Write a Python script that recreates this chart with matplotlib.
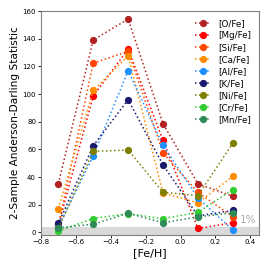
import matplotlib
matplotlib.use("Agg")
import matplotlib.pyplot as plt

feh = [-0.7, -0.5, -0.3, -0.1, 0.1, 0.3]
labels = ["[O/Fe]", "[Mg/Fe]", "[Si/Fe]", "[Ca/Fe]", "[Al/Fe]", "[K/Fe]", "[Ni/Fe]", "[Cr/Fe]", "[Mn/Fe]"]
colors = ["firebrick", "red", "orangered", "darkorange", "dodgerblue", "midnightblue", "olive", "limegreen", "seagreen"]
o_fe = [35.3, 139.1, 154.2, 78.6, 35.1, 26.2]
mg_fe = [5.0, 98.7, 132.4, 66.5, 2.9, 7.0]
si_fe = [5.0, 122.3, 131.0, 57.4, 29.0, 11.3]
ca_fe = [17.3, 102.6, 127.6, 28.5, 21.4, 40.6]
al_fe = [4.0, 55.5, 116.8, 62.9, 25.0, 1.7]
k_fe = [6.5, 62.7, 95.9, 48.8, 12.0, 15.9]
ni_fe = [3.0, 58.6, 59.6, 29.0, 26.7, 64.6]
cr_fe = [1.0, 10.1, 13.7, 9.9, 14.6, 31.0]
mn_fe = [3.4, 6.0, 13.9, 7.0, 11.3, 14.2]
series = [o_fe, mg_fe, si_fe, ca_fe, al_fe, k_fe, ni_fe, cr_fe, mn_fe]
threshold = 4.1

fig = plt.figure(figsize=(2.69, 2.69), dpi=100)
ax = fig.add_axes([0.152, 0.128, 0.811, 0.831])
for vals, lab, c in zip(series, labels, colors):
    ax.plot(feh, vals, ls=':', marker='o', color=c, label=lab, ms=4.2, lw=1.1)
ax.axhspan(-5, threshold, color='#d9d9d9', zorder=0, lw=0)
ax.text(0.435, threshold + 1.2, "1%", color='darkgray', fontsize=7.5, ha='right', va='bottom')
ax.set_xlim(-0.8, 0.45)
ax.set_ylim(-1.5, 160)
ax.set_xticks([-0.8, -0.6, -0.4, -0.2, 0.0, 0.2, 0.4])
ax.set_yticks([0, 20, 40, 60, 80, 100, 120, 140, 160])
ax.tick_params(labelsize=5, length=2, width=0.6, pad=1.5)
for s in ax.spines.values():
    s.set_color('gray')
    s.set_linewidth(0.8)
ax.set_xlabel("[Fe/H]", fontsize=8, labelpad=2)
ax.set_ylabel("2-Sample Anderson-Darling Statistic", fontsize=7.6, labelpad=1.5)
ax.legend(loc='upper right', fontsize=6.3, frameon=False, handlelength=1.8, labelspacing=0.35, borderaxespad=0.5)
fig.savefig("out.png", dpi=100)
